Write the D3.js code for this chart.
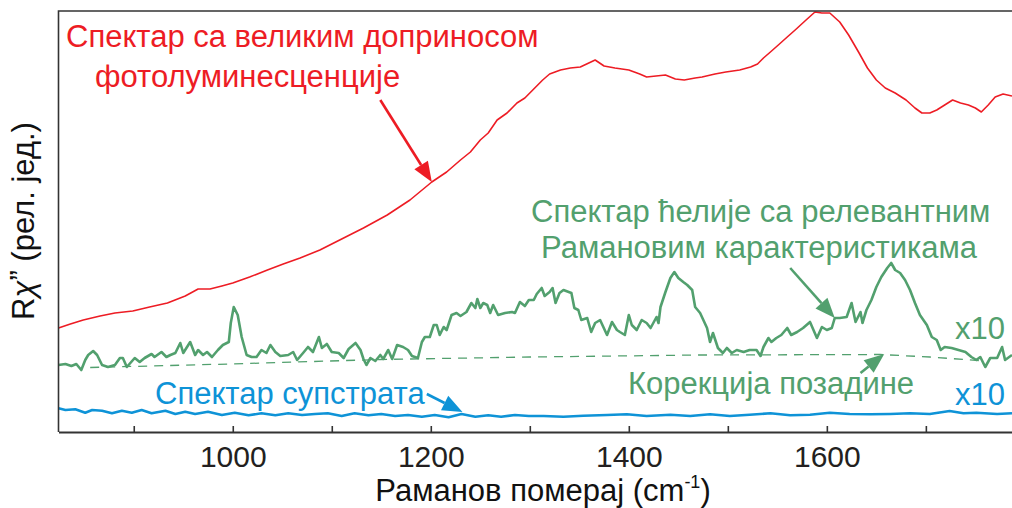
<!DOCTYPE html>
<html>
<head>
<meta charset="utf-8">
<script src="https://cdn.jsdelivr.net/npm/d3@7"></script>
<style>
  body { margin: 0; background: #fff; }
  svg text { font-family: "Liberation Sans", Arial, sans-serif; }
</style>
</head>
<body>
<div id="chart"></div>
<script>
// Raman shift (cm-1) and intensity (rel. units)
const redShift = [824, 836, 849, 866, 881, 899, 916, 934, 952, 965, 977, 989, 1000, 1017, 1035, 1051, 1068, 1088, 1108, 1132,
  1156, 1179, 1201, 1216, 1230, 1240, 1250, 1258, 1267, 1277, 1287, 1295, 1303, 1313, 1320, 1331, 1341, 1351, 1366, 1375,
  1386, 1400, 1411, 1418, 1437, 1447, 1456, 1467, 1474, 1487, 1498, 1512, 1523, 1530, 1536, 1543, 1551, 1560, 1568, 1579,
  1588, 1595, 1603, 1613, 1622, 1632, 1641, 1650, 1659, 1669, 1680, 1689, 1696, 1704, 1711, 1719, 1727, 1735, 1743, 1750,
  1756, 1763, 1770, 1778, 1787]
const redVal = [104, 108, 112, 116, 119, 121, 125, 129, 136, 143, 143, 146, 149, 155, 162, 168, 174, 182, 192, 204,
  217, 232, 250, 260, 272, 280, 292, 299, 312, 319, 329, 334, 342, 352, 358, 362, 364, 365, 372, 366,
  364, 362, 358, 355, 357, 353, 352, 354, 355, 358, 360, 362, 365, 368, 374, 380, 387, 395, 402, 412,
  420, 419, 419, 410, 397, 380, 364, 352, 344, 339, 332, 324, 319, 319, 322, 327, 332, 329, 327, 324,
  320, 327, 335, 338, 336]

const greenShift = [824, 831, 837, 842, 847, 851, 854, 859, 863, 868, 874, 881, 886, 889, 893, 901, 906, 911, 918, 921,
  928, 933, 937, 942, 947, 950, 957, 962, 965, 970, 974, 979, 985, 990, 996, 998, 1001, 1005, 1009, 1014,
  1019, 1024, 1029, 1034, 1038, 1043, 1048, 1056, 1061, 1065, 1071, 1076, 1081, 1087, 1090, 1095, 1100, 1107, 1112, 1117,
  1124, 1129, 1132, 1135, 1139, 1144, 1149, 1152, 1157, 1161, 1166, 1172, 1177, 1181, 1187, 1191, 1194, 1199, 1203, 1206,
  1209, 1213, 1216, 1221, 1226, 1230, 1236, 1241, 1245, 1247, 1250, 1253, 1257, 1260, 1263, 1268, 1275, 1282, 1285, 1290,
  1295, 1299, 1304, 1307, 1312, 1315, 1320, 1323, 1326, 1330, 1334, 1342, 1345, 1349, 1352, 1358, 1362, 1366, 1371, 1378,
  1383, 1388, 1391, 1396, 1400, 1403, 1408, 1413, 1418, 1422, 1428, 1430, 1432, 1437, 1442, 1446, 1450, 1455, 1459, 1464,
  1467, 1472, 1479, 1482, 1485, 1490, 1495, 1499, 1504, 1509, 1516, 1522, 1529, 1533, 1536, 1541, 1544, 1549, 1554, 1560,
  1564, 1570, 1576, 1583, 1590, 1595, 1600, 1605, 1608, 1613, 1620, 1625, 1629, 1634, 1636, 1640, 1645, 1650, 1655, 1661,
  1665, 1669, 1674, 1679, 1684, 1689, 1694, 1701, 1706, 1711, 1715, 1719, 1726, 1733, 1740, 1746, 1751, 1755, 1760, 1765,
  1772, 1777, 1780, 1787]
const greenVal = [67, 68, 66, 68, 62, 72, 77, 81, 77, 67, 65, 67, 74, 74, 65, 74, 70, 74, 78, 75,
  80, 75, 77, 79, 89, 79, 90, 77, 82, 77, 80, 75, 82, 87, 90, 109, 125, 117, 95, 77,
  75, 75, 82, 79, 87, 80, 76, 77, 80, 72, 79, 85, 80, 95, 84, 88, 80, 79, 74, 83,
  89, 82, 73, 67, 74, 71, 77, 73, 82, 73, 87, 85, 82, 76, 74, 90, 95, 95, 107, 107,
  97, 105, 102, 117, 119, 116, 120, 129, 124, 133, 124, 129, 127, 119, 127, 117, 119, 120, 119, 130,
  126, 132, 132, 138, 144, 136, 140, 144, 129, 139, 142, 139, 124, 122, 112, 114, 100, 109, 112, 97,
  110, 102, 100, 97, 117, 107, 102, 112, 109, 104, 115, 109, 125, 140, 154, 160, 154, 150, 147, 142,
  125, 119, 104, 90, 99, 84, 79, 84, 79, 82, 80, 82, 82, 76, 85, 94, 90, 94, 97, 104,
  97, 100, 104, 110, 94, 105, 102, 104, 114, 114, 115, 129, 110, 120, 109, 122, 132, 145, 155, 164,
  169, 162, 159, 152, 142, 129, 117, 107, 95, 92, 82, 85, 84, 82, 80, 75, 72, 75, 65, 74,
  74, 85, 72, 77]

const baseShift = [856, 997, 1149, 1300, 1472, 1654, 1704, 1760]
const baseVal = [64.5, 68, 72.5, 75, 77, 77.5, 75, 71]

const blueShift = [824, 831, 841, 851, 858, 868, 878, 888, 898, 908, 918, 932, 942, 952, 962, 975, 989, 1002, 1016, 1029,
  1043, 1056, 1070, 1083, 1096, 1110, 1123, 1137, 1150, 1164, 1177, 1191, 1204, 1218, 1231, 1245, 1258, 1271, 1285, 1299,
  1314, 1334, 1354, 1378, 1398, 1418, 1442, 1462, 1482, 1502, 1522, 1543, 1563, 1583, 1603, 1623, 1644, 1664, 1684, 1704,
  1724, 1738, 1751, 1772, 1787]
const blueVal = [23.7, 22, 22.7, 19.3, 22, 21.3, 18.7, 21.3, 19.3, 22, 18.7, 21.3, 18, 20.3, 18, 20.3, 17, 19.3, 16.7, 18.7,
  16.7, 18.7, 17, 18, 18.7, 16, 18.7, 16.7, 18, 16, 17, 15.3, 17, 14.7, 18, 15.3, 16.7, 15.3, 17, 16,
  16, 15.3, 16.3, 17, 17.7, 16, 17.3, 16, 17.7, 16, 17.3, 18.7, 16.7, 17.3, 19.3, 18, 17.7, 18, 18.7, 18,
  21, 18.7, 19.3, 18, 18.7]

const tickValues = [900, 1000, 1100, 1200, 1300, 1400, 1500, 1600, 1700]
const tickLabels = {1000: '1000', 1200: '1200', 1400: '1400', 1600: '1600'}

// annotation arrows: [shift0, val0, shift1, val1]
const arrows = [
  {pts: [1149, 332, 1201, 250], color: '#ed1c24'},
  {pts: [1563, 164, 1608, 114], color: '#52a06e'},
  {pts: [1634, 59, 1658, 78], color: '#52a06e'},
  {pts: [1196, 38, 1232, 20], color: '#0e93d7'},
]

const W = 1012, H = 508
const red = '#ed1c24', green = '#52a06e', blue = '#0e93d7'

const svg = d3.select('#chart').append('svg')
  .attr('width', W).attr('height', H)

const x = d3.scaleLinear().domain([824, 1787]).range([58.5, 1012])
const y = d3.scaleLinear().domain([0, 421]).range([432, 11])

svg.append('clipPath').attr('id', 'clip')
  .append('rect').attr('x', 58.5).attr('y', 0).attr('width', W - 58.5).attr('height', 432)

const line = d3.line().x(d => x(d[0])).y(d => y(d[1]))
const zip = (a, b) => a.map((v, i) => [v, b[i]])

const plot = svg.append('g').attr('clip-path', 'url(#clip)')

plot.append('path').datum(zip(baseShift, baseVal))
  .attr('d', line).attr('fill', 'none')
  .attr('stroke', green).attr('stroke-width', 1.3).attr('stroke-dasharray', '9,7')

plot.append('path').datum(zip(redShift, redVal))
  .attr('d', line).attr('fill', 'none')
  .attr('stroke', red).attr('stroke-width', 1.6).attr('stroke-linejoin', 'round')

plot.append('path').datum(zip(greenShift, greenVal))
  .attr('d', line).attr('fill', 'none')
  .attr('stroke', green).attr('stroke-width', 2.6).attr('stroke-linejoin', 'round')

plot.append('path').datum(zip(blueShift, blueVal))
  .attr('d', line).attr('fill', 'none')
  .attr('stroke', blue).attr('stroke-width', 2.6).attr('stroke-linejoin', 'round')

// frame: left axis + top line
svg.append('path')
  .attr('d', `M${W},11 H58.5 V432`)
  .attr('fill', 'none').attr('stroke', '#333').attr('stroke-width', 1.6)

// bottom axis, ticks pointing inward
const xAxis = svg.append('g')
  .attr('transform', 'translate(0,432)')
  .call(d3.axisBottom(x).tickValues(tickValues).tickSizeInner(-6).tickSizeOuter(0)
    .tickFormat(d => tickLabels[d] || ''))
xAxis.select('.domain').attr('stroke', '#333').attr('stroke-width', 1.8)
xAxis.selectAll('.tick line').attr('stroke', '#333').attr('stroke-width', 1.6)
xAxis.selectAll('.tick text')
  .attr('y', 35).attr('dy', 0)
  .style('font-size', '30px').attr('fill', '#231f20')

// axis titles
const xt = svg.append('text')
  .attr('x', 543).attr('y', 501).attr('text-anchor', 'middle')
  .style('font-size', '31px').attr('fill', '#111')
xt.append('tspan').text('Раманов померај (cm')
xt.append('tspan').text('-1').style('font-size', '18px').attr('dy', -13)
xt.append('tspan').text(')').attr('dy', 13)

const yt = svg.append('text')
  .attr('transform', 'translate(34,221) rotate(-90)')
  .attr('text-anchor', 'middle')
  .style('font-size', '31px').attr('fill', '#111')
yt.append('tspan').text('R')
yt.append('tspan').text('χ').style('font-style', 'italic')
yt.append('tspan').text('”').attr('dy', -2)
yt.append('tspan').text(' (рел. јед.)').attr('dy', 2)

// labels
const labels = [
  {t: 'Спектар са великим доприносом', x: 66, y: 47, c: red},
  {t: 'фотолуминесценције', x: 95, y: 87, c: red},
  {t: 'Спектар ћелије са релевантним', x: 531, y: 222, c: green},
  {t: 'Рамановим карактеристикама', x: 541, y: 258, c: green},
  {t: 'x10', x: 955, y: 339, c: green},
  {t: 'Корекција позадине', x: 628, y: 394, c: green},
  {t: 'Спектар супстрата', x: 155, y: 404, c: blue},
  {t: 'x10', x: 955, y: 405, c: blue},
]
svg.selectAll('.lab').data(labels).join('text')
  .attr('class', 'lab')
  .attr('x', d => d.x).attr('y', d => d.y)
  .attr('fill', d => d.c)
  .style('font-size', '31px')
  .text(d => d.t)

// arrows
arrows.forEach(a => {
  const x0 = x(a.pts[0]), y0 = y(a.pts[1]), x1 = x(a.pts[2]), y1 = y(a.pts[3])
  const ang = Math.atan2(y1 - y0, x1 - x0)
  const len = 20, half = 8
  const bx = x1 - len * Math.cos(ang), by = y1 - len * Math.sin(ang)
  svg.append('line')
    .attr('x1', x0).attr('y1', y0).attr('x2', bx).attr('y2', by)
    .attr('stroke', a.color).attr('stroke-width', 2.6)
  svg.append('path')
    .attr('d', `M${x1},${y1} L${bx - half * Math.sin(ang)},${by + half * Math.cos(ang)} L${bx + half * Math.sin(ang)},${by - half * Math.cos(ang)} Z`)
    .attr('fill', a.color)
})
</script>
</body>
</html>
